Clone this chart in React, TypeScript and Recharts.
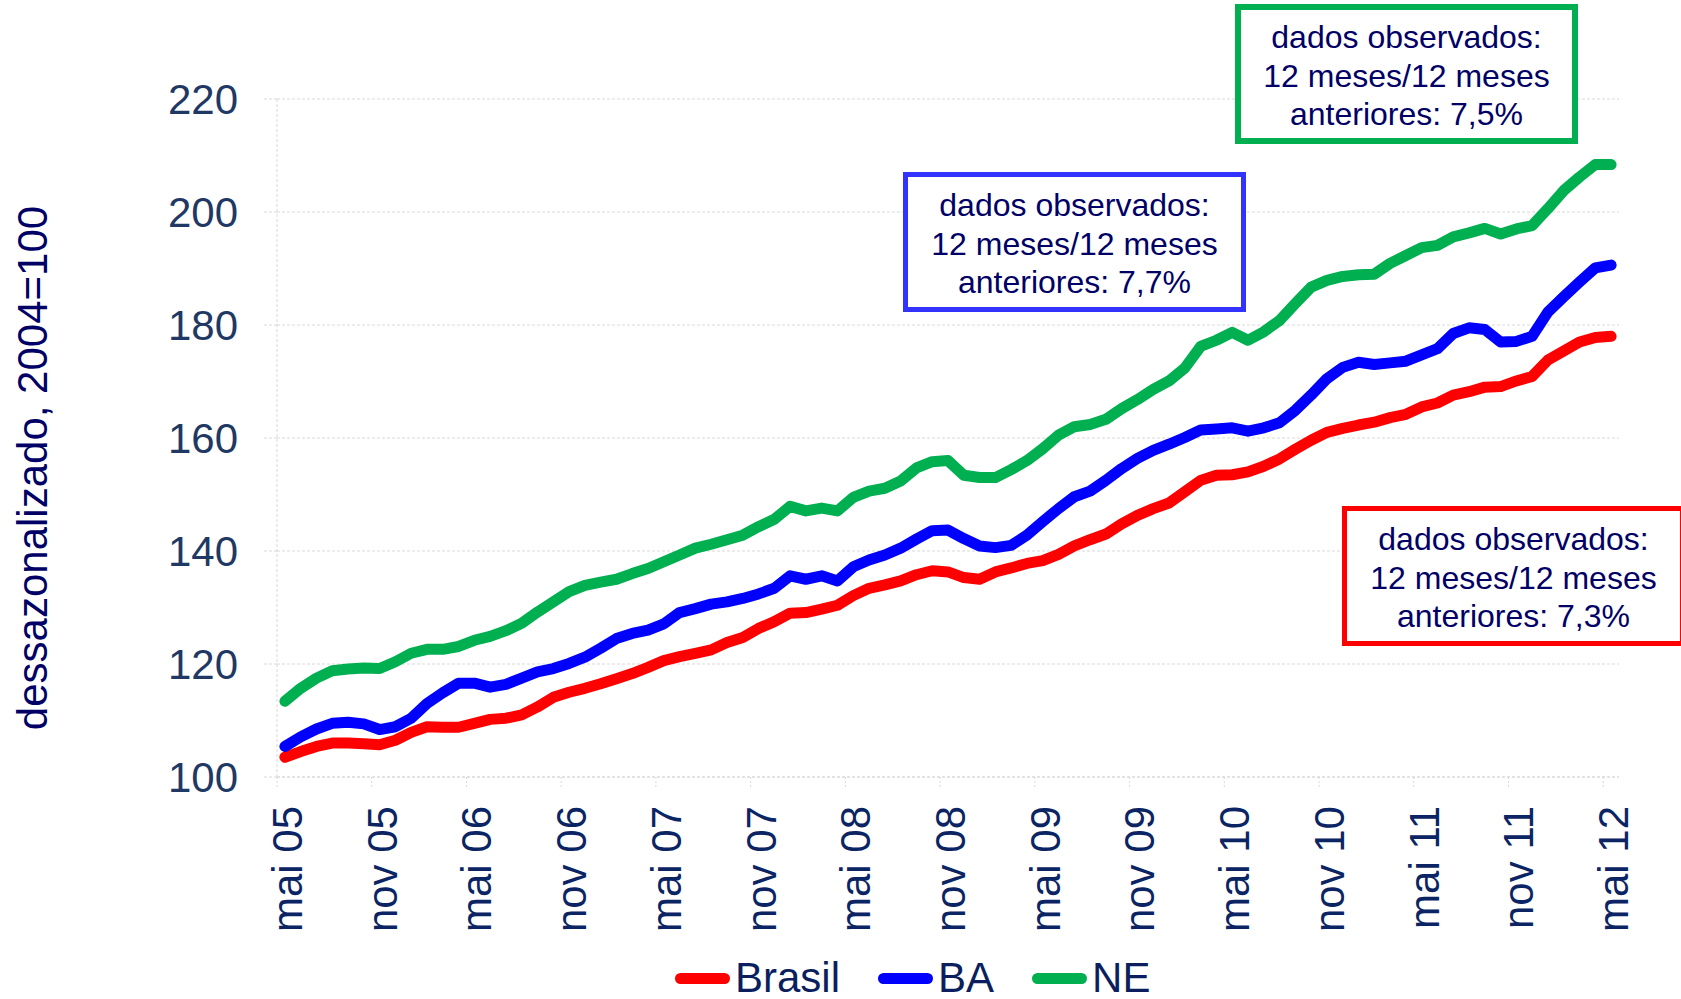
import { LineChart, Line, XAxis, YAxis, CartesianGrid } from 'recharts'

// índice dessazonalizado, 2004=100 — mensal, mai/05 a mai/12
const BRASIL = [
  103.5, 104.5, 105.4, 106.0, 106.0, 105.9, 105.7, 106.5, 107.9, 108.9, 108.8, 108.8,
  109.5, 110.2, 110.4, 111.0, 112.4, 114.1, 115.0, 115.7, 116.5, 117.4, 118.3, 119.4,
  120.6, 121.3, 121.9, 122.5, 123.8, 124.7, 126.3, 127.5, 129.0, 129.1, 129.7, 130.4,
  132.1, 133.4, 134.0, 134.7, 135.8, 136.5, 136.3, 135.3, 135.0, 136.3, 137.0, 137.8,
  138.3, 139.4, 140.9, 142.0, 143.0, 144.8, 146.3, 147.5, 148.5, 150.5, 152.5, 153.4,
  153.5, 154.0, 155.0, 156.3, 158.0, 159.6, 161.0, 161.7, 162.3, 162.8, 163.6, 164.2,
  165.5, 166.2, 167.6, 168.2, 169.0, 169.1, 170.1, 170.9, 173.8, 175.4, 177.0, 177.8,
  178.0,
]

const BA = [
  105.4, 107.1, 108.5, 109.5, 109.7, 109.4, 108.4, 108.9, 110.4, 113.0, 114.9, 116.6,
  116.6, 115.9, 116.4, 117.5, 118.6, 119.2, 120.1, 121.2, 122.8, 124.5, 125.4, 126.0,
  127.1, 129.1, 129.8, 130.6, 131.0, 131.6, 132.4, 133.4, 135.6, 135.0, 135.6, 134.7,
  137.2, 138.4, 139.3, 140.5, 142.1, 143.6, 143.7, 142.2, 140.9, 140.6, 141.0, 142.8,
  145.2, 147.5, 149.6, 150.6, 152.5, 154.6, 156.4, 157.8, 158.9, 160.1, 161.4, 161.6,
  161.8, 161.2, 161.8, 162.7, 164.9, 167.6, 170.5, 172.5, 173.4, 173.0, 173.3, 173.6,
  174.7, 175.8, 178.5, 179.5, 179.2, 177.0, 177.1, 178.0, 182.3, 185.0, 187.6, 190.1,
  190.6,
]

const NE = [
  113.4, 115.7, 117.5, 118.8, 119.1, 119.3, 119.2, 120.4, 121.9, 122.6, 122.6, 123.1,
  124.2, 124.9, 125.9, 127.2, 129.2, 131.0, 132.8, 133.9, 134.5, 135.0, 136.0, 136.9,
  138.1, 139.3, 140.5, 141.2, 142.0, 142.8, 144.3, 145.6, 147.9, 147.1, 147.6, 147.1,
  149.5, 150.6, 151.1, 152.4, 154.7, 155.8, 156.0, 153.4, 153.0, 153.0, 154.4, 156.0,
  158.1, 160.5, 162.0, 162.4, 163.3, 165.2, 166.8, 168.6, 170.1, 172.4, 176.2, 177.3,
  178.7, 177.3, 178.8, 180.8, 183.8, 186.7, 187.9, 188.6, 188.9, 189.0, 190.9, 192.3,
  193.7, 194.1, 195.6, 196.3, 197.1, 196.1, 197.0, 197.6, 200.6, 203.8, 206.2, 208.4,
  208.4,
]

const MONTH_NAMES = ['jan', 'fev', 'mar', 'abr', 'mai', 'jun', 'jul', 'ago', 'set', 'out', 'nov', 'dez']
const TICK_LABELS = [
  'mai 05', 'nov 05', 'mai 06', 'nov 06', 'mai 07', 'nov 07', 'mai 08', 'nov 08',
  'mai 09', 'nov 09', 'mai 10', 'nov 10', 'mai 11', 'nov 11', 'mai 12',
]
const Y_TICKS = [100, 120, 140, 160, 180, 200, 220]

const SERIES = [
  { key: 'brasil', name: 'Brasil', color: '#FF0000' },
  { key: 'ba', name: 'BA', color: '#0000FF' },
  { key: 'ne', name: 'NE', color: '#00B050' },
]

const NOTES = [
  { text: '7,5%', color: '#00B050', left: 1235, top: 4, border: 6 },
  { text: '7,7%', color: '#3333FF', left: 903, top: 172, border: 5 },
  { text: '7,3%', color: '#FF0000', left: 1342, top: 506, border: 5 },
]

// month labels, starting at mai 05
const MONTHS = BRASIL.map((_, k) => {
  const m = 4 + k
  return `${MONTH_NAMES[m % 12]} ${String(5 + Math.floor(m / 12)).padStart(2, '0')}`
})

const data = MONTHS.map((month, i) => ({ i, month, brasil: BRASIL[i], ba: BA[i], ne: NE[i] }))
const xTicks = TICK_LABELS.map((l) => MONTHS.indexOf(l))

const FONT = '"Liberation Sans", Arial, sans-serif'
const W = 1681
const H = 999
const PLOT_LEFT = 277
const PLOT_RIGHT = 1619
const PLOT_TOP = 99
const PLOT_BOTTOM = 777
const HALF_BAND = (PLOT_RIGHT - PLOT_LEFT) / MONTHS.length / 2
const GRID = '#D9D9D9'

function MonthTick({ x, y, payload }: any) {
  const bx = x + 17
  const by = y + 29
  return (
    <g>
      <line x1={x - HALF_BAND} x2={x - HALF_BAND} y1={y} y2={y + 12} stroke={GRID} strokeDasharray="2 2" />
      <text
        x={bx}
        y={by}
        transform={`rotate(-90, ${bx}, ${by})`}
        textAnchor="end"
        fontSize={42}
        fontFamily={FONT}
        fill="#0B2463"
      >
        {MONTHS[payload.value]}
      </text>
    </g>
  )
}

function AxisTitle() {
  return (
    <text
      x={47}
      y={468}
      transform="rotate(-90, 47, 468)"
      textAnchor="middle"
      fontSize={42}
      fontFamily={FONT}
      fill="#000066"
    >
      dessazonalizado, 2004=100
    </text>
  )
}

export default function App() {
  return (
    <div style={{ position: 'absolute', left: 0, top: 0, width: W, height: H, overflow: 'hidden', background: '#fff', fontFamily: FONT }}>
      <LineChart width={W} height={H} data={data} margin={{ top: PLOT_TOP, right: W - PLOT_RIGHT, left: 0, bottom: 0 }}>
        <CartesianGrid vertical={false} stroke={GRID} strokeDasharray="3 2" />
        <XAxis
          type="number"
          dataKey="i"
          domain={[-0.5, MONTHS.length - 0.5]}
          allowDataOverflow
          ticks={xTicks}
          interval={0}
          height={H - PLOT_BOTTOM}
          tickSize={0}
          tickMargin={0}
          tickLine={false}
          axisLine={{ stroke: GRID, strokeDasharray: '3 2' }}
          tick={<MonthTick />}
        />
        <YAxis
          domain={[100, 220]}
          ticks={Y_TICKS}
          width={PLOT_LEFT}
          tickSize={13}
          tickMargin={26}
          tickLine={{ stroke: GRID, strokeDasharray: '3 2' }}
          axisLine={{ stroke: GRID, strokeDasharray: '3 2' }}
          tick={{ fontSize: 42, fill: '#1F3864', fontFamily: FONT }}
          label={{ content: () => <AxisTitle /> }}
        />
        {SERIES.map((s) => (
          <Line
            key={s.key}
            type="linear"
            dataKey={s.key}
            name={s.name}
            stroke={s.color}
            strokeWidth={11}
            strokeLinecap="round"
            strokeLinejoin="round"
            dot={false}
            activeDot={false}
            isAnimationActive={false}
          />
        ))}
      </LineChart>

      {NOTES.map((n) => (
        <div
          key={n.text}
          style={{
            position: 'absolute',
            left: n.left,
            top: n.top,
            width: 343,
            height: 140,
            boxSizing: 'border-box',
            border: `${n.border}px solid ${n.color}`,
            background: '#fff',
            display: 'flex',
            flexDirection: 'column',
            justifyContent: 'center',
            alignItems: 'center',
            paddingTop: 4,
            fontSize: 32,
            lineHeight: '38.5px',
            color: '#000066',
            textAlign: 'center',
          }}
        >
          <div>dados observados:</div>
          <div>12 meses/12 meses</div>
          <div>anteriores: {n.text}</div>
        </div>
      ))}

      <div style={{ position: 'absolute', left: 675, top: 959, display: 'flex', alignItems: 'center', height: 38 }}>
        {SERIES.map((s) => (
          <div key={s.key} style={{ display: 'flex', alignItems: 'center', marginRight: 38 }}>
            <span style={{ display: 'inline-block', width: 55, height: 11, borderRadius: 6, background: s.color }} />
            <span style={{ fontSize: 42, lineHeight: '38px', color: '#0B1F5E', marginLeft: 5 }}>{s.name}</span>
          </div>
        ))}
      </div>
    </div>
  )
}
